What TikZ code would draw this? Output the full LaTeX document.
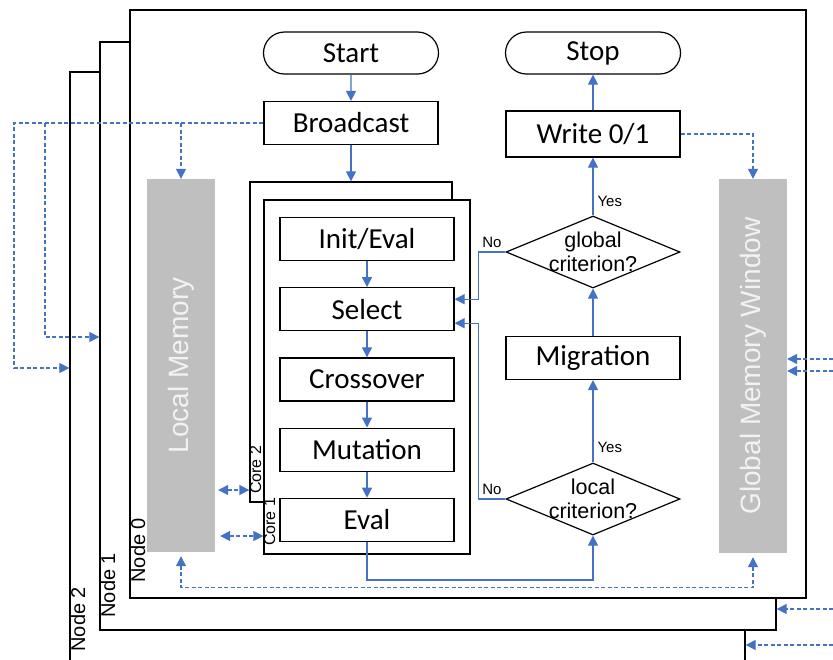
\documentclass[tikz,border=0pt]{standalone}
\usepackage{fontspec}
\setmainfont{Carlito}
\newfontfamily\arialfont{Liberation Sans}
\usetikzlibrary{arrows.meta, positioning, shapes.geometric, shapes.misc}
\definecolor{flowblue}{RGB}{68,114,196}
\definecolor{memgray}{RGB}{191,191,191}
\definecolor{memtext}{RGB}{242,242,242}
\tikzset{
  bxP/.style={draw, fill=white, minimum width=174pt, minimum height=43pt,
              inner sep=0pt, font=\fontsize{29}{32}\selectfont, line width=1.2pt},
  bxT/.style={bxP, rounded rectangle, minimum width=175pt, minimum height=42pt},
  bxD/.style={draw, diamond, fill=white, minimum width=174pt, minimum height=72pt,
              inner sep=0pt, line width=1.2pt},
  dtext/.style={align=center, inner sep=0pt,
                font=\arialfont\fontsize{21.5}{24}\selectfont},
  frm/.style={draw, fill=white, inner sep=0pt, line width=1.3pt},
  mem/.style={fill=memgray, minimum width=68pt, inner sep=0pt},
  memlbl/.style={rotate=90, inner sep=0pt, text=memtext,
                 font=\arialfont\fontsize{28}{30}\selectfont},
  tag/.style={rotate=90, inner sep=1pt, font=\arialfont\fontsize{20}{22}\selectfont},
  ctag/.style={rotate=90, inner sep=0.5pt, font=\arialfont\fontsize{16}{18}\selectfont},
  yn/.style={inner sep=4pt, text=black, font=\arialfont\fontsize{15}{17}\selectfont},
  arr/.style={-{Triangle[length=10pt,width=10pt]}, flowblue, line width=1.2pt},
  darr/.style={arr, line width=1.3pt, dash pattern=on 4pt off 2.5pt},
  ddarr/.style={darr, {Triangle[length=10pt,width=10pt]}-{Triangle[length=10pt,width=10pt]}},
}

\begin{document}
\begin{tikzpicture}[x=1pt, y=-1pt]
  \useasboundingbox (0,0) rectangle (833,659);

  % ── node frames ──────────────────────────────────────────
  \node[frm, minimum width=675pt, minimum height=593pt] (node2) at (407.5,368.5) {};
  \node[frm, minimum width=676pt, minimum height=588pt] (node1) at (438,336) {};
  \node[frm, minimum width=676pt, minimum height=588pt] (node0) at (468,304) {};
  \node[tag, anchor=north west] (tag2) at ([yshift=13pt]node2.south west) {Node 2};
  \node[tag, anchor=north west] (tag1) at ([yshift=12pt]node1.south west) {Node 1};
  \node[tag, anchor=north west] (tag0) at ([yshift=15pt]node0.south west) {Node 0};

  % ── memories ─────────────────────────────────────────────
  \node[mem, minimum height=373pt, label={[memlbl]center:Local Memory}]
    (locmem) at (181,365.5) {};
  \node[mem, minimum height=374pt, label={[memlbl]center:Global Memory Window}]
    (glbmem) at (753,366) {};

  % ── cores ────────────────────────────────────────────────
  \node[frm, minimum width=202pt, minimum height=320pt] (core2) at (351,342) {};
  \node[frm, minimum width=206pt, minimum height=354pt] (core1) at (367,377) {};
  \node[ctag, anchor=north west] (ctag2) at ([yshift=8pt]core2.south west) {Core 2};
  \node[ctag, anchor=north west] (ctag1) at ([yshift=8pt]core1.south west) {Core 1};

  % ── flow boxes ───────────────────────────────────────────
  \node[bxT] (start) at (351,53) {Start};
  \node[bxP] (bcast) at (351,123) {Broadcast};
  \node[bxP] (init) at (367,239) {Init/Eval};
  \node[bxP, below=26pt of init] (select) {Select};
  \node[bxP, below=26pt of select] (cross) {Crossover};
  \node[bxP, below=26pt of cross] (mut) {Mutation};
  \node[bxP, below=26pt of mut] (eval) {Eval};

  \node[bxT] (stop) at (593,53) {Stop};
  \node[bxP, minimum height=46pt] (write) at (593,134) {Write 0/1};
  \node[bxD, label={[dtext]center:global\\criterion?}] (glob) at (593,252) {};
  \node[bxP] (migr) at (593,358) {Migration};
  \node[bxD, label={[dtext]center:local\\criterion?}] (locc) at (593,499) {};

  % ── solid flow arrows ────────────────────────────────────
  \draw[arr] (start) -- (bcast);
  \draw[arr] (bcast.south) -- (bcast.south |- core2.north);
  \foreach \a/\b in {init/select, select/cross, cross/mut, mut/eval}
    \draw[arr] (\a) -- (\b);
  \draw[arr] (eval.south) -- ++(0,38) -| (locc.south);
  \draw[arr] (locc.north) -- node[yn, right, pos=0.18] {Yes} (migr.south);
  \draw[arr] (migr.north) -- (glob.south);
  \draw[arr] (glob.north) -- node[yn, right, pos=0.25] {Yes} (write.south);
  \draw[arr] (write) -- (stop);
  \draw[arr] (glob.west) -- node[yn, above] {No} ++(-27,0)
    |- ([yshift=10pt]select.east);
  \draw[arr] (locc.west) -- node[yn, above] {No} ++(-27,0)
    |- ([yshift=-14pt]select.east);

  % ── dashed memory traffic ────────────────────────────────
  \coordinate (bsplit2) at (14,123);
  \coordinate (bsplit1) at (45,123);
  \draw[darr] (bcast.west) -- (bsplit2) |- (node2.west |- 0,368);
  \draw[darr] (bsplit1) |- (node1.west |- 0,337);
  \draw[darr] (locmem.north |- bcast.west) -- (locmem.north);
  \draw[darr] (write.east) -| (glbmem.north);
  \draw[ddarr, shorten <=3pt] (locmem.east |- 0,490) -- (core2.west |- 0,490);
  \draw[ddarr, shorten <=5pt] (locmem.east |- 0,536) -- (core1.west |- 0,536);
  \draw[ddarr, shorten <=4pt, shorten >=4pt] (locmem.south) -- ++(0,35.5) -| (glbmem.south);

  \coordinate (in1) at (833,359);
  \coordinate (in2) at (833,371);
  \coordinate (in3) at (833,609);
  \coordinate (in4) at (833,645);
  \draw[darr] (in1) -- (glbmem.east |- in1);
  \draw[darr] (in2) -- (glbmem.east |- in2);
  \draw[darr] (in3) -- (node1.east |- in3);
  \draw[darr] (in4) -- (node2.east |- in4);
\end{tikzpicture}
\end{document}
